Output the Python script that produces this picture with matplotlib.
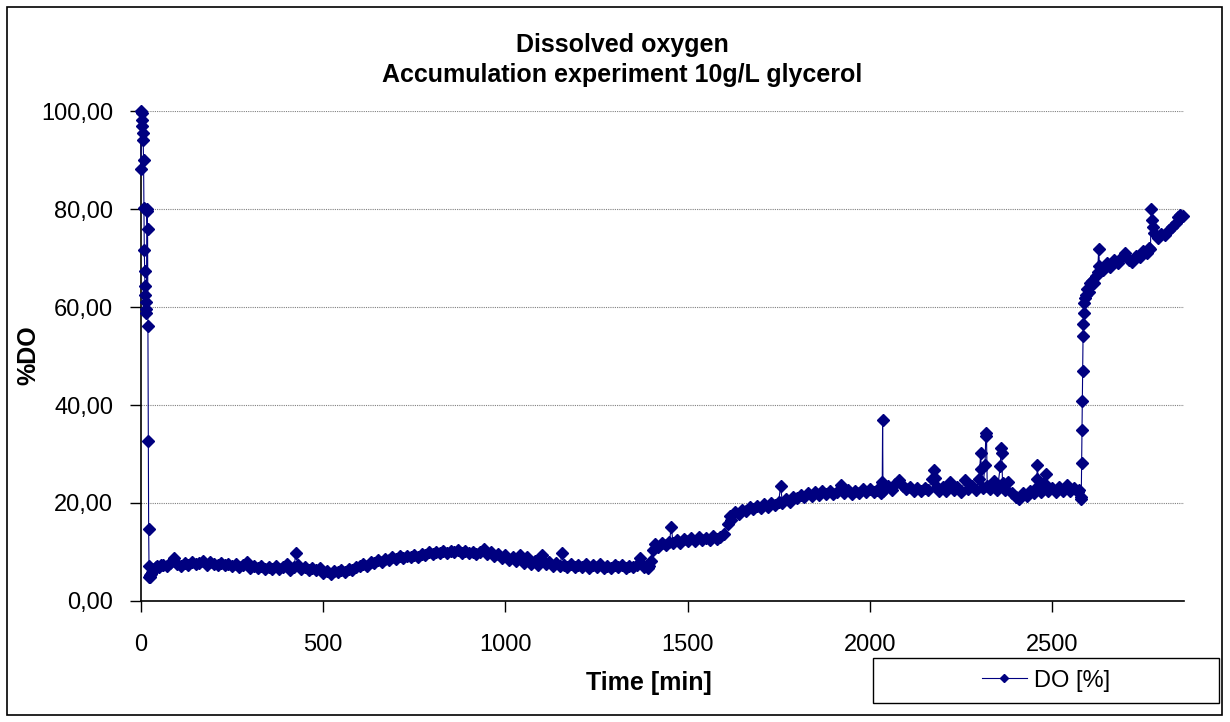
import numpy as np
import matplotlib
matplotlib.use("Agg")
import matplotlib.pyplot as plt
from matplotlib.patches import Rectangle
from matplotlib.ticker import FuncFormatter

plt.rcParams['font.family'] = ['Liberation Sans', 'DejaVu Sans']

# start-up: aeration at 100 %, then fast drop after inoculation
start_t = [0, 1, 2, 3, 4, 5, 6, 7, 8, 9, 10, 11, 12, 13, 14, 15, 16, 17, 18, 19,
           20, 21, 22, 23, 24, 26, 28, 30, 33, 36, 40, 45, 50, 55]
start_do = [88.2, 100.0, 99.6, 98.1, 96.9, 95.6, 94.0, 90.1, 80.2, 71.6,
            67.3, 64.3, 62.4, 61.0, 59.6, 58.7, 80.0, 79.5, 75.9, 56.1,
            32.6, 14.6, 7.1, 5.0, 4.8, 5.3, 5.6, 6.0, 6.3, 6.6, 6.9, 7.1, 7.0, 7.3]

# low DO phase
low_t = [60, 70, 80, 90, 100, 110, 120, 130, 140, 150, 160, 170, 180, 190, 200,
         210, 220, 230, 240, 250, 260, 270, 280, 290, 300, 310, 320, 330, 340, 350,
         360, 370, 380, 390, 400, 410, 420, 425, 430, 440, 450, 460, 470, 480, 490,
         500, 510, 520, 530, 540, 550, 560, 570, 580, 590, 600, 610, 620, 630, 640,
         650, 660, 670, 680, 690, 700, 710, 720, 730, 740, 750, 760, 770, 780, 790,
         800, 810, 820, 830, 840, 850, 860, 870, 880, 890, 900, 910, 920, 930, 940,
         950, 960, 970, 980, 990, 1000, 1010, 1020, 1030, 1040, 1050, 1060, 1070,
         1080, 1090, 1100, 1110, 1120, 1130, 1140, 1150, 1155, 1160, 1170, 1180,
         1190, 1200, 1210, 1220, 1230, 1240, 1250, 1260, 1270, 1280, 1290, 1300,
         1310, 1320, 1330, 1340, 1350, 1360, 1370, 1380, 1390, 1395]
low_do = [7.4, 7.1, 7.7, 8.7, 7.5, 7.2, 7.8, 7.4, 7.9, 7.5, 7.7, 8.2, 7.4, 7.9, 7.6,
          7.3, 7.8, 7.4, 7.6, 7.1, 7.5, 7.0, 7.4, 7.9, 6.8, 7.2, 6.7, 7.1, 6.6, 7.0,
          6.5, 7.2, 6.6, 6.9, 7.6, 6.4, 6.9, 9.8, 7.4, 6.5, 7.0, 6.3, 6.8, 6.4, 6.7,
          5.8, 6.2, 5.6, 6.1, 5.9, 6.4, 6.0, 6.6, 6.3, 6.9, 7.1, 7.6, 7.2, 8.0, 7.7,
          8.4, 8.0, 8.6, 8.3, 8.9, 8.5, 9.1, 8.7, 9.2, 8.9, 9.4, 9.0, 9.6, 9.3, 9.9,
          9.5, 10.1, 9.7, 10.3, 9.8, 10.2, 9.9, 10.4, 9.8, 10.2, 9.7, 10.1, 9.6, 10.0, 10.6,
          9.5, 9.9, 9.1, 9.5, 8.8, 9.3, 8.4, 8.9, 8.1, 9.3, 7.8, 9.0, 7.6,
          8.2, 7.4, 9.3, 7.5, 7.9, 7.2, 7.7, 7.1, 9.8, 7.4, 7.0, 7.5,
          6.9, 7.3, 7.0, 7.6, 6.8, 7.4, 6.9, 7.5, 6.8, 7.2, 6.7, 7.3,
          6.9, 7.4, 6.8, 7.2, 6.9, 7.3, 8.7, 7.0, 6.8, 7.1]

# stepwise increase and plateau around 22 %
mid_t = [1400, 1405, 1410, 1420, 1430, 1440, 1450, 1455, 1460, 1470, 1480, 1490,
         1500, 1510, 1520, 1530, 1540, 1550, 1560, 1570, 1580, 1590, 1600, 1610,
         1615, 1620, 1630, 1640, 1650, 1660, 1670, 1680, 1690, 1700, 1710, 1720,
         1730, 1740, 1750, 1755, 1760, 1770, 1780, 1790, 1800, 1810, 1820, 1830,
         1840, 1850, 1860, 1870, 1880, 1890, 1900, 1910, 1920, 1930, 1940, 1950,
         1960, 1970, 1980, 1990, 2000, 2010, 2020, 2030, 2034, 2035, 2036, 2040,
         2050, 2060, 2070, 2080, 2090, 2100, 2110, 2120, 2130, 2140, 2150, 2160,
         2170, 2175, 2180, 2185, 2190, 2200, 2210, 2220, 2230, 2240, 2250, 2260,
         2270, 2280, 2290, 2300, 2304, 2306, 2310, 2316, 2318, 2320, 2322, 2330,
         2340, 2350, 2358, 2360, 2362, 2364, 2370, 2380, 2390, 2400, 2410, 2420,
         2430, 2440, 2450, 2458, 2460, 2462, 2470, 2478, 2482, 2485, 2490, 2500,
         2510, 2520, 2530, 2540, 2550, 2560, 2570, 2575, 2578, 2580]
mid_do = [8.2, 10.5, 11.6, 11.0, 11.8, 11.4, 12.1, 15.1, 11.9, 12.5, 11.8, 12.7,
          12.2, 12.9, 12.3, 13.1, 12.4, 12.9, 12.5, 13.3, 12.6, 13.0, 13.6, 15.8,
          17.3, 16.5, 18.2, 17.8, 18.6, 18.3, 19.1, 18.7, 19.4, 19.0, 19.7, 19.2,
          19.9, 19.5, 20.3, 23.5, 20.1, 20.8, 20.3, 21.2, 21.0, 21.6, 21.2, 22.0,
          21.5, 22.2, 21.6, 22.4, 21.8, 22.5, 21.9, 22.3, 23.6, 22.0, 22.6, 21.9,
          22.5, 22.1, 22.8, 22.2, 22.9, 22.3, 22.7, 22.1, 24.3, 37.0, 22.5, 22.9,
          23.4, 22.6, 23.8, 24.6, 23.5, 22.8, 23.3, 22.5, 23.0, 22.4, 23.1, 22.6,
          24.8, 26.7, 25.1, 23.2, 22.5, 23.3, 22.4, 24.2, 22.7, 23.2, 22.3, 24.6,
          22.9, 23.4, 22.6, 25.0, 30.2, 27.0, 23.1, 27.8, 33.6, 34.3, 23.4, 22.8,
          24.5, 22.7, 27.6, 31.2, 30.2, 24.0, 22.6, 24.3, 22.0, 21.3, 20.9, 22.1,
          21.5, 22.4, 22.0, 25.0, 27.8, 23.4, 22.3, 24.0, 26.0, 22.8, 22.4, 23.0,
          22.2, 23.3, 22.5, 23.6, 22.4, 23.0, 22.2, 22.6, 21.3, 20.8]

# DO rise at the end of the experiment
end_t = [2581, 2582, 2583, 2584, 2585, 2586, 2587, 2588, 2590, 2593, 2596, 2600,
         2605, 2610, 2615, 2620, 2625, 2628, 2630, 2640, 2650, 2660, 2670, 2680,
         2690, 2700, 2710, 2720, 2730, 2740, 2750, 2760, 2765, 2770, 2772, 2774,
         2776, 2780, 2790, 2800, 2810, 2820, 2830, 2840, 2845, 2850, 2855, 2860]
end_do = [28.2, 35.0, 40.8, 47.0, 54.1, 56.5, 58.8, 60.9, 61.8, 62.5, 63.6, 63.0,
          64.8, 65.4, 64.9, 66.3, 67.2, 71.9, 68.4, 67.5, 68.9, 68.2, 69.6, 69.0,
          70.1, 71.0, 69.6, 69.2, 70.5, 70.2, 71.5, 71.0, 72.1, 71.8, 80.0, 77.8,
          76.4, 75.2, 74.1, 75.0, 74.6, 75.8, 76.3, 77.1, 78.4, 78.7, 78.3, 78.6]

x_ticks = [0, 500, 1000, 1500, 2000, 2500]
y_ticks = [0, 20, 40, 60, 80, 100]

time_min = np.concatenate([start_t, low_t, mid_t, end_t])
do_pct = np.concatenate([start_do, low_do, mid_do, end_do])

fig = plt.figure(figsize=(12.3, 7.22), dpi=100)
ax = fig.add_axes([141/1230, 1 - 601/722, (1184 - 141)/1230, (601 - 111)/722])

navy = '#000080'
ax.plot(time_min, do_pct, color=navy, lw=0.8, marker='D', ms=6.2,
        mec=navy, mfc=navy, label='DO [%]', clip_on=False, zorder=3)

ax.set_xlim(0, 2862)
ax.set_ylim(0, 100)
ax.set_xticks(x_ticks)
ax.set_yticks(y_ticks)
ax.yaxis.set_major_formatter(FuncFormatter(lambda v, p: f"{v:.2f}".replace('.', ',')))
ax.tick_params(axis='both', labelsize=17, direction='out', length=8, width=1, color='black')
ax.tick_params(axis='y', pad=12)
ax.tick_params(axis='x', pad=16)

ax.grid(axis='y', color='#808080', lw=0.8, linestyle=(0, (1, 1)))
ax.set_axisbelow(True)
for side in ['top', 'right']:
    ax.spines[side].set_visible(False)
for side in ['left', 'bottom']:
    ax.spines[side].set_linewidth(1.2)

fig.text(0.506, 1 - 60/722, "Dissolved oxygen\nAccumulation experiment 10g/L glycerol",
         ha='center', va='center', fontsize=18, fontweight='bold', linespacing=1.3)
fig.text(649/1230, 1 - 683/722, "Time [min]", ha='center', va='center',
         fontsize=18, fontweight='bold')
fig.text(28/1230, 1 - 355/722, "%DO", ha='center', va='center', rotation=90,
         fontsize=18, fontweight='bold')

# legend box in the lower right corner
fig.patches.append(Rectangle((873/1230, 1 - 703/722), 346/1230, 45/722,
                             transform=fig.transFigure, fill=False, ec='black', lw=1))
fig.legend(loc='center', bbox_to_anchor=(1046/1230, 1 - 680.5/722), frameon=False,
           fontsize=17, handlelength=1.9, handletextpad=0.3, markerscale=0.6)

# outer chart border
fig.patches.append(Rectangle((7/1230, 1 - 715/722), 1215/1230, 708/722,
                             transform=fig.transFigure, fill=False, ec='black', lw=1.2))

fig.savefig("out.png", dpi=100)
